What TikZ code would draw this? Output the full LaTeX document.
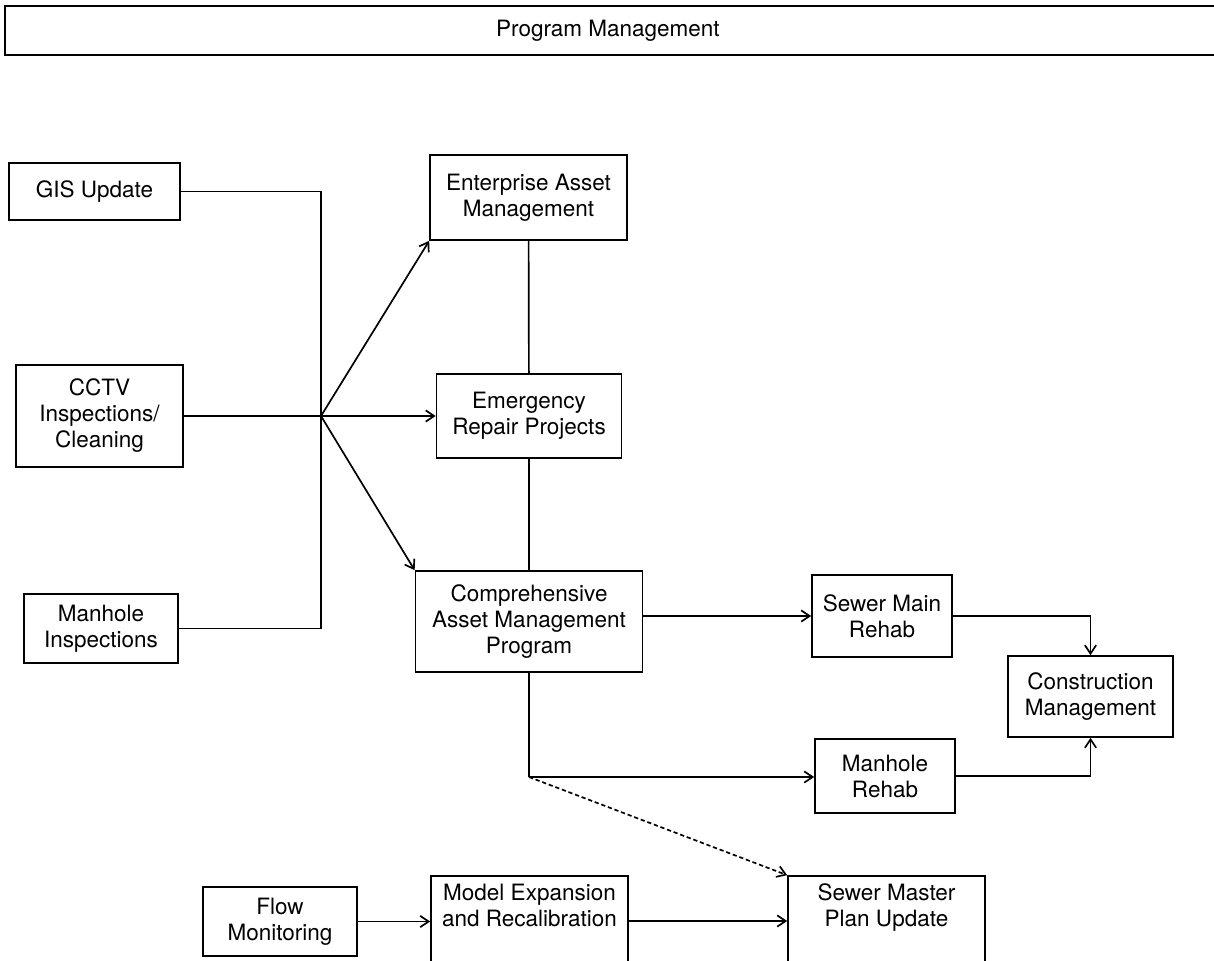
\documentclass[tikz,border=0pt]{standalone}
\usepackage{fontspec}
\setmainfont{TeX Gyre Heros}
\usetikzlibrary{arrows.meta}

\begin{document}
\begin{tikzpicture}[x=0.025cm, y=-0.025cm, line width=1.2pt,
  blk/.style 2 args={draw, align=center, inner sep=1pt,
    minimum width=#1*0.025cm, minimum height=#2*0.025cm,
    font=\fontsize{16}{18.5}\selectfont},
  arr/.style={-{Straight Barb[length=6pt,width=8pt]}}]
  \useasboundingbox (0,0) rectangle (1214,960);
  \clip (0,0) rectangle (1214,960);
  % top bar
  \node[blk={1300}{49}] (pm) at (655,30.5) {\hspace*{-67pt}Program Management};
  % inputs on the left
  \node[blk={171}{57}] (gis) at (94.5,191.5) {GIS Update};
  \node[blk={167}{102}] (cctv) at (99.5,416) {CCTV\\Inspections/\\Cleaning};
  \node[blk={154}{69}] (manin) at (101,628.5) {Manhole\\Inspections};
  \coordinate (hub) at (321,416);
  % middle column
  \node[blk={197}{85}] (eam) at (528.5,197.5) {Enterprise Asset\\Management};
  \node[blk={185}{84}] (erp) at (529,416) {Emergency\\Repair Projects};
  \node[blk={227}{101}] (camp) at (529,621.5) {Comprehensive\\Asset Management\\Program};
  \coordinate (split) at (529,777);
  % right side
  \node[blk={140}{82}] (smr) at (882,616) {Sewer Main\\Rehab};
  \node[blk={165}{81}] (cm) at (1090.5,696.5) {Construction\\Management};
  \node[blk={140}{74}] (mr) at (885,776) {Manhole\\Rehab};
  % bottom row
  \node[blk={154}{69}] (flow) at (280,921.5) {Flow\\Monitoring};
  \node[blk={197}{90}] (mer) at (529.5,921) {Model Expansion\\and Recalibration\\[4pt]};
  \node[blk={197}{90}] (smp) at (886.5,921) {Sewer Master\\Plan Update\\[4pt]};
  % connectors
  \draw (gis) -| (hub);
  \draw (manin) -| (hub);
  \draw (cctv) -- (hub);
  \draw[arr] (hub) -- (eam.south west);
  \draw[arr] (hub) -- (erp);
  \draw[arr] (hub) -- (camp.north west);
  \draw (eam) -- (erp);
  \draw (erp) -- (camp);
  \draw[arr] (camp.east |- smr) -- (smr);
  \draw[arr] (smr) -| (cm);
  \draw (camp) -- (split);
  \draw[arr] (split) -- (split -| mr.west);
  \draw[arr] (mr) -| (cm);
  \draw[arr, dash pattern=on 3pt off 2pt] (split) -- (smp.north west);
  \draw[arr] (flow) -- (flow -| mer.west);
  \draw[arr] (mer) -- (smp);
\end{tikzpicture}
\end{document}
